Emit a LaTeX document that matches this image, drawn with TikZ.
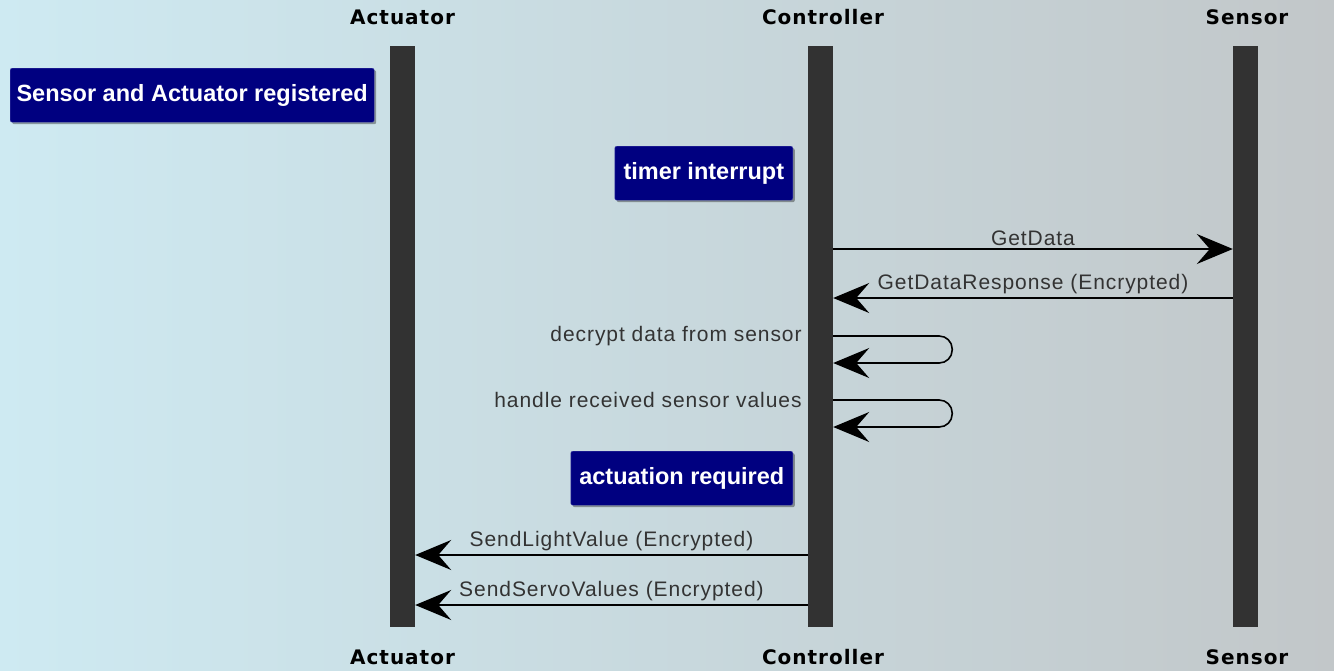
\documentclass[tikz,border=0pt]{standalone}
\usepackage{fontspec}
\setmainfont{Liberation Sans}
\newfontfamily\headfont{DejaVu Sans}[LetterSpace=5]
\newfontfamily\msgfont{Liberation Sans}[LetterSpace=4.5]
\usetikzlibrary{arrows.meta,positioning,shadows}

\definecolor{notefill}{RGB}{0,0,128}
\definecolor{noteline}{RGB}{70,70,170}
\definecolor{barcol}{RGB}{50,50,50}
\definecolor{bgleft}{RGB}{206,234,242}
\definecolor{bgright}{RGB}{194,199,201}

\begin{document}
\begin{tikzpicture}[x=1pt, y=-1pt,
    lifeline/.style={rectangle, fill=barcol, minimum width=25pt, minimum height=581pt, inner sep=0pt},
    head/.style={font=\headfont\bfseries\fontsize{20}{24}\selectfont, text=black},
    note/.style={rectangle, fill=notefill, draw=noteline, rounded corners=2pt, text=white,
        font=\bfseries\fontsize{23.5}{26}\selectfont, minimum height=54pt, inner sep=0pt,
        drop shadow={shadow xshift=2pt, shadow yshift=-2pt, fill=black, opacity=0.35}},
    msg/.style={draw=black, line width=1.6pt, -{Stealth[length=36pt, width=30pt, inset=13pt]}},
    lbl/.style={font=\msgfont\fontsize{21}{24}\selectfont, text=black!80, inner sep=3pt}]

    % background
    \shade[left color=bgleft, right color=bgright] (0,0) rectangle (1334,670);
    \useasboundingbox (0,0) rectangle (1334,670);

    % lifelines
    \node[lifeline] (act) at (402.5,336.5) {};
    \node[lifeline] (ctrl) at (820.5,336.5) {};
    \node[lifeline] (sens) at (1245.5,336.5) {};
    \node[head] (acttop) at (402.5,17) {Actuator};
    \node[head] (ctrltop) at (823,17) {Controller};
    \node[head] (senstop) at (1247,17) {Sensor};
    \node[head] (actbot) at (402.5,657) {Actuator};
    \node[head] (ctrlbot) at (823,657) {Controller};
    \node[head] (sensbot) at (1247,657) {Sensor};

    % notes
    \node[note, anchor=north west, minimum width=364pt] (registered) at (10,68) {Sensor and Actuator registered};
    \node[note, anchor=north east, minimum width=178pt] (timer) at (793,146) {timer interrupt};
    \node[note, anchor=north east, minimum width=222pt] (actuation) at (793,451) {actuation required};

    % message rows
    \coordinate (getdata) at (0,249);
    \coordinate (response) at (0,298);
    \coordinate (decrypt) at (0,336);
    \coordinate (handle) at (0,400);
    \coordinate (light) at (0,555);
    \coordinate (servo) at (0,605);

    \draw[msg] (ctrl.east |- getdata) -- (sens.west |- getdata) node[lbl, midway, above] {GetData};
    \draw[msg] (sens.west |- response) -- (ctrl.east |- response) node[lbl, midway, above] {GetDataResponse (Encrypted)};

    \draw[msg, rounded corners=13pt] (ctrl.east |- decrypt) -- ++(119,0) -- ++(0,27) -- ([yshift=-27pt]ctrl.east |- decrypt);
    \node[lbl, anchor=east] (decryptlbl) at ([xshift=-3pt]ctrl.west |- decrypt) {decrypt data from sensor};
    \draw[msg, rounded corners=13pt] (ctrl.east |- handle) -- ++(119,0) -- ++(0,27) -- ([yshift=-27pt]ctrl.east |- handle);
    \node[lbl, anchor=east] (handlelbl) at ([xshift=-3pt]ctrl.west |- handle) {handle received sensor values};

    \draw[msg] (ctrl.west |- light) -- (act.east |- light) node[lbl, midway, above] {SendLightValue (Encrypted)};
    \draw[msg] (ctrl.west |- servo) -- (act.east |- servo) node[lbl, midway, above] {SendServoValues (Encrypted)};
\end{tikzpicture}
\end{document}
